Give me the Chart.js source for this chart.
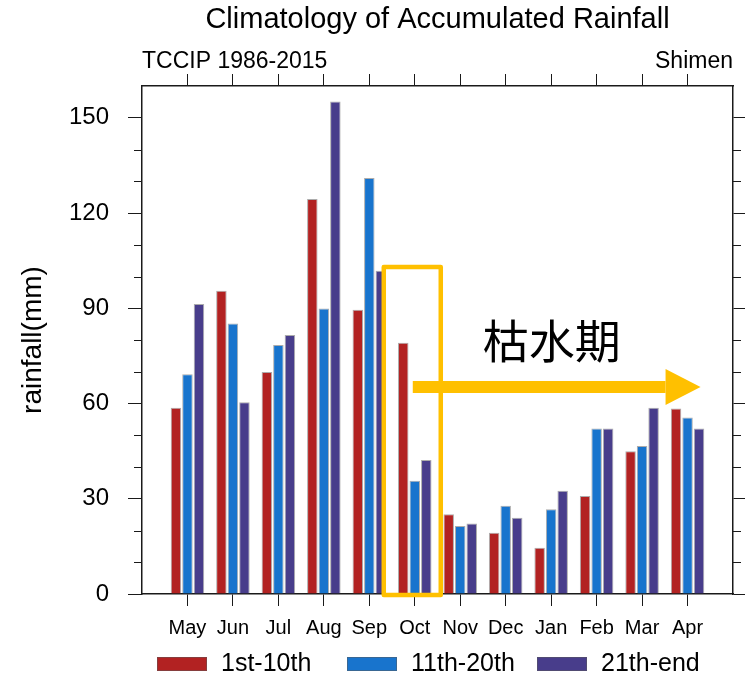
<!DOCTYPE html>
<html>
<head>
<meta charset="utf-8">
<title>Climatology of Accumulated Rainfall</title>
<script src="https://cdn.jsdelivr.net/npm/chart.js@4.4.0/dist/chart.umd.min.js"></script>
<style>
  html, body { margin: 0; padding: 0; background: #fff; }
</style>
</head>
<body>
<canvas id="rainfall-chart" width="745" height="677"></canvas>
<script>
/*==== data ====*/
const months = ['May', 'Jun', 'Jul', 'Aug', 'Sep', 'Oct', 'Nov', 'Dec', 'Jan', 'Feb', 'Mar', 'Apr'];
const rain_1st_10th  = [58.7, 95.5, 69.9, 124.4, 89.5, 79.1, 25.1, 19.3, 14.6, 30.9, 45.0, 58.4];
const rain_11th_20th = [69.2, 85.2, 78.4, 89.9, 131.0, 35.7, 21.4, 27.8, 26.7, 52.1, 46.6, 55.6];
const rain_21th_end  = [91.3, 60.4, 81.6, 155.1, 101.8, 42.2, 22.2, 24.0, 32.5, 52.1, 58.7, 52.1];
const period_labels = ['1st-10th', '11th-20th', '21th-end'];
const yMajorTicks = [0, 30, 60, 90, 120, 150];
const yMax = 160;

const FONT = '"Liberation Sans", Arial, Helvetica, sans-serif';
const AXIS_COLOR = '#1a1a1a';

// one empty slot on each side so the months sit a full step in from the frame
const axisLabels = [''].concat(months, ['']);
function pad(arr) {
    return [null].concat(arr, [null]);
}
function majorOnly(scale) {
    scale.ticks = yMajorTicks.map(function(v) { return { value: v }; });
}
function hideEdgeTicks(ctx) {
    return (ctx.index === 0 || ctx.index === axisLabels.length - 1) ? 'rgba(0,0,0,0)' : AXIS_COLOR;
}

/*==== extras drawn on top: titles, minor ticks, legend, dry-season marker ====*/
const decorations = {
    id: 'decorations',
    afterDraw: function(chart) {
        const ctx = chart.ctx;
        const area = chart.chartArea;
        const xs = chart.scales.x;
        const ys = chart.scales.y;
        ctx.save();

        // minor ticks on both sides
        ctx.strokeStyle = AXIS_COLOR;
        ctx.lineWidth = 1;
        for (var v = 10; v < yMax; v += 10) {
            if (v % 30 === 0) continue;
            var py = Math.round(ys.getPixelForValue(v)) + 0.5;
            ctx.beginPath();
            ctx.moveTo(area.left - 8, py); ctx.lineTo(area.left, py);
            ctx.moveTo(area.right, py); ctx.lineTo(area.right + 8, py);
            ctx.stroke();
        }

        // titles
        ctx.fillStyle = '#000';
        ctx.textBaseline = 'alphabetic';
        ctx.font = '29px ' + FONT;
        ctx.textAlign = 'center';
        ctx.fillText('Climatology of Accumulated Rainfall', (area.left + area.right) / 2, 28);
        ctx.font = '23px ' + FONT;
        ctx.textAlign = 'left';
        ctx.fillText('TCCIP 1986-2015', area.left, 68);
        ctx.textAlign = 'right';
        ctx.fillText('Shimen', area.right, 68);

        // legend
        ctx.font = '25px ' + FONT;
        ctx.textAlign = 'left';
        ctx.textBaseline = 'middle';
        chart.data.datasets.forEach(function(ds, i) {
            var x0 = 157 + i * 190;
            ctx.fillStyle = ds.backgroundColor;
            ctx.fillRect(x0, 657, 50, 14);
            ctx.strokeStyle = 'rgba(90,90,90,0.5)';
            ctx.strokeRect(x0 + 0.5, 657.5, 49, 13);
            ctx.fillStyle = '#000';
            ctx.fillText(ds.label, x0 + 64, 664);
        });

        // dry season: box around October and arrow to the end of the year
        var octX = xs.getPixelForValue(months.indexOf('Oct') + 1);
        var aprX = xs.getPixelForValue(months.indexOf('Apr') + 1);
        ctx.strokeStyle = '#FFC000';
        ctx.lineWidth = 4.5;
        ctx.lineJoin = 'round';
        ctx.strokeRect(octX - 31, ys.getPixelForValue(103), 57, ys.getPixelForValue(0) + 1 - ys.getPixelForValue(103));

        var ay = ys.getPixelForValue(65.2);
        var tip = aprX + 13;
        ctx.fillStyle = '#FFC000';
        ctx.fillRect(octX - 2, ay - 6, tip - 35 - (octX - 2), 12);
        ctx.beginPath();
        ctx.moveTo(tip - 35, ay - 18);
        ctx.lineTo(tip, ay);
        ctx.lineTo(tip - 35, ay + 18);
        ctx.closePath();
        ctx.fill();

        ctx.fillStyle = '#000';
        ctx.font = '46px "Noto Sans CJK TC", "Noto Sans CJK SC", sans-serif';
        ctx.textAlign = 'center';
        ctx.textBaseline = 'middle';
        ctx.fillText('枯水期', octX + 137, ys.getPixelForValue(79.7));

        ctx.restore();
    }
};

/*==== setup ====*/
const data_rainfall = {
    labels: axisLabels,
    datasets: [
        {
            label: period_labels[0],
            data: pad(rain_1st_10th),
            backgroundColor: '#B22222'
        },
        {
            label: period_labels[1],
            data: pad(rain_11th_20th),
            backgroundColor: '#1874CD'
        },
        {
            label: period_labels[2],
            data: pad(rain_21th_end),
            backgroundColor: '#483D8B'
        }
    ]
};
data_rainfall.datasets.forEach(function(ds) {
    ds.borderColor = 'rgba(90,90,90,0.5)';
    ds.borderWidth = 1;
    ds.categoryPercentage = 0.76;
    ds.barPercentage = 0.91;
});

/*=== config ====*/
const config_rainfall = {
    type: 'bar',
    data: data_rainfall,
    plugins: [decorations],
    options: {
        responsive: false,
        animation: false,
        layout: { padding: { top: 74, left: 0, right: 0, bottom: 0 } },
        plugins: {
            legend: { display: false },
            tooltip: { enabled: false }
        },
        scales: {
            x: {
                position: 'bottom',
                offset: false,
                grid: { offset: false, drawOnChartArea: false, tickLength: 12, tickColor: hideEdgeTicks },
                border: { display: true, color: AXIS_COLOR, width: 1.5 },
                ticks: {
                    color: '#000',
                    font: { family: FONT, size: 20 },
                    padding: 10,
                    maxRotation: 0,
                    autoSkip: false
                },
                afterFit: function(scale) { scale.height = 83; }
            },
            x2: {
                position: 'top',
                type: 'category',
                labels: axisLabels,
                offset: false,
                grid: { offset: false, drawOnChartArea: false, tickLength: 12, tickColor: hideEdgeTicks },
                border: { display: true, color: AXIS_COLOR, width: 1.5 },
                ticks: { display: false, autoSkip: false }
            },
            y: {
                position: 'left',
                min: 0,
                max: yMax,
                afterBuildTicks: majorOnly,
                grid: { drawOnChartArea: false, tickLength: 14, tickColor: AXIS_COLOR },
                border: { display: true, color: AXIS_COLOR, width: 1.5 },
                ticks: {
                    color: '#000',
                    font: { family: FONT, size: 24 },
                    padding: 19
                },
                title: {
                    display: true,
                    text: 'rainfall(mm)',
                    color: '#000',
                    font: { family: FONT, size: 28 },
                    padding: { top: 16, bottom: 0 }
                },
                afterFit: function(scale) { scale.width = 142; }
            },
            y2: {
                position: 'right',
                min: 0,
                max: yMax,
                afterBuildTicks: majorOnly,
                grid: { drawOnChartArea: false, tickLength: 12, tickColor: AXIS_COLOR },
                border: { display: true, color: AXIS_COLOR, width: 1.5 },
                ticks: { display: false }
            }
        }
    }
};

/*===== render graphic =====*/
var rainfallChart = new Chart(document.getElementById('rainfall-chart'), config_rainfall);
</script>
</body>
</html>
